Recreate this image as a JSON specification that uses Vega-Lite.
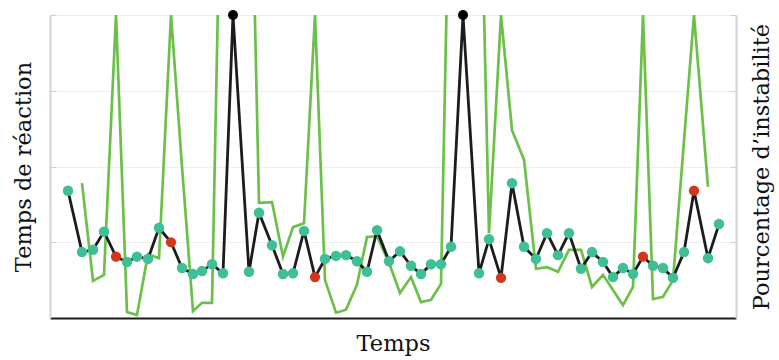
{
  "$schema": "https://vega.github.io/schema/vega-lite/v6.json",
  "width": 686,
  "height": 303,
  "autosize": {"type": "none"},
  "padding": {"left": 50, "top": 15, "right": 43, "bottom": 42},
  "background": "white",
  "config": {
    "view": {"stroke": null},
    "axis": {"titleFont": "DejaVu Serif", "titleFontSize": 22.5, "titleFontWeight": "normal", "titleColor": "#111"}
  },
  "data": {
    "values": [
      {"t": 18, "rt": 1.68, "inst": null, "kind": "normal"},
      {"t": 32, "rt": 0.87, "inst": 1.78, "kind": "normal"},
      {"t": 43, "rt": 0.90, "inst": 0.49, "kind": "normal"},
      {"t": 54, "rt": 1.14, "inst": 0.57, "kind": "normal"},
      {"t": 66, "rt": 0.81, "inst": 4.0, "kind": "erreur"},
      {"t": 77, "rt": 0.74, "inst": 0.08, "kind": "normal"},
      {"t": 87, "rt": 0.81, "inst": 0.04, "kind": "normal"},
      {"t": 98, "rt": 0.78, "inst": 0.84, "kind": "normal"},
      {"t": 109, "rt": 1.19, "inst": 0.79, "kind": "normal"},
      {"t": 121, "rt": 1.00, "inst": 4.0, "kind": "erreur"},
      {"t": 132, "rt": 0.66, "inst": 2.0, "kind": "normal"},
      {"t": 143, "rt": 0.58, "inst": 0.09, "kind": "normal"},
      {"t": 152, "rt": 0.62, "inst": 0.20, "kind": "normal"},
      {"t": 162, "rt": 0.71, "inst": 0.20, "kind": "normal"},
      {"t": 173, "rt": 0.59, "inst": 7.5, "kind": "normal"},
      {"t": 183, "rt": 4.0, "inst": 7.5, "kind": "pic"},
      {"t": 199, "rt": 0.61, "inst": 7.5, "kind": "normal"},
      {"t": 209, "rt": 1.39, "inst": 1.52, "kind": "normal"},
      {"t": 222, "rt": 0.96, "inst": 1.53, "kind": "normal"},
      {"t": 233, "rt": 0.58, "inst": 0.81, "kind": "normal"},
      {"t": 243, "rt": 0.59, "inst": 1.20, "kind": "normal"},
      {"t": 254, "rt": 1.15, "inst": 1.25, "kind": "normal"},
      {"t": 265, "rt": 0.54, "inst": 4.0, "kind": "erreur"},
      {"t": 275, "rt": 0.78, "inst": 0.50, "kind": "normal"},
      {"t": 286, "rt": 0.82, "inst": 0.07, "kind": "normal"},
      {"t": 296, "rt": 0.83, "inst": 0.11, "kind": "normal"},
      {"t": 307, "rt": 0.75, "inst": 0.44, "kind": "normal"},
      {"t": 317, "rt": 0.61, "inst": 1.07, "kind": "normal"},
      {"t": 327, "rt": 1.16, "inst": 1.08, "kind": "normal"},
      {"t": 339, "rt": 0.75, "inst": 0.73, "kind": "normal"},
      {"t": 350, "rt": 0.88, "inst": 0.33, "kind": "normal"},
      {"t": 361, "rt": 0.69, "inst": 0.54, "kind": "normal"},
      {"t": 371, "rt": 0.58, "inst": 0.21, "kind": "normal"},
      {"t": 381, "rt": 0.71, "inst": 0.24, "kind": "normal"},
      {"t": 391, "rt": 0.71, "inst": 0.45, "kind": "normal"},
      {"t": 401, "rt": 0.94, "inst": 7.0, "kind": "normal"},
      {"t": 413, "rt": 4.0, "inst": 7.0, "kind": "pic"},
      {"t": 429, "rt": 0.59, "inst": 7.0, "kind": "normal"},
      {"t": 439, "rt": 1.04, "inst": 1.12, "kind": "normal"},
      {"t": 451, "rt": 0.53, "inst": 4.0, "kind": "erreur"},
      {"t": 462, "rt": 1.78, "inst": 2.48, "kind": "normal"},
      {"t": 474, "rt": 0.94, "inst": 2.09, "kind": "normal"},
      {"t": 486, "rt": 0.78, "inst": 0.65, "kind": "normal"},
      {"t": 497, "rt": 1.12, "inst": 0.67, "kind": "normal"},
      {"t": 508, "rt": 0.83, "inst": 0.61, "kind": "normal"},
      {"t": 519, "rt": 1.12, "inst": 0.90, "kind": "normal"},
      {"t": 531, "rt": 0.65, "inst": 0.90, "kind": "normal"},
      {"t": 542, "rt": 0.87, "inst": 0.41, "kind": "normal"},
      {"t": 553, "rt": 0.74, "inst": 0.57, "kind": "normal"},
      {"t": 563, "rt": 0.54, "inst": 0.37, "kind": "normal"},
      {"t": 573, "rt": 0.66, "inst": 0.17, "kind": "normal"},
      {"t": 583, "rt": 0.58, "inst": 0.41, "kind": "normal"},
      {"t": 593, "rt": 0.81, "inst": 4.0, "kind": "erreur"},
      {"t": 603, "rt": 0.69, "inst": 0.25, "kind": "normal"},
      {"t": 613, "rt": 0.66, "inst": 0.28, "kind": "normal"},
      {"t": 623, "rt": 0.53, "inst": 0.50, "kind": "normal"},
      {"t": 634, "rt": 0.87, "inst": 2.34, "kind": "normal"},
      {"t": 644, "rt": 1.68, "inst": 4.0, "kind": "erreur"},
      {"t": 658, "rt": 0.79, "inst": 1.73, "kind": "normal"},
      {"t": 669, "rt": 1.24, "inst": null, "kind": "normal"}
    ]
  },
  "encoding": {
    "x": {
      "field": "t", "type": "quantitative",
      "scale": {"domain": [0, 686], "nice": false, "zero": false},
      "axis": {"title": "Temps", "labels": false, "ticks": false, "grid": false, "domainColor": "#1a1a1a", "domainWidth": 2, "titlePadding": 14}
    }
  },
  "layer": [
    {
      "mark": {"type": "line", "color": "#6cc04a", "strokeWidth": 2.7, "clip": true},
      "encoding": {
        "y": {
          "field": "inst", "type": "quantitative",
          "scale": {"domain": [0, 4], "nice": false},
          "axis": {"orient": "right", "title": "Pourcentage d’instabilité", "titleAngle": -90, "titleBaseline": "top", "labels": false, "grid": false, "values": [1, 2, 3, 4], "tickSize": -6, "tickColor": "#cfcfcf", "domainColor": "#d4d4d4", "domainWidth": 2, "titlePadding": 14}
        }
      }
    },
    {
      "mark": {"type": "line", "color": "#1c1c1c", "strokeWidth": 2.8},
      "encoding": {
        "y": {
          "field": "rt", "type": "quantitative",
          "scale": {"domain": [0, 4], "nice": false},
          "axis": {"orient": "left", "title": "Temps de réaction", "labels": false, "grid": true, "gridColor": "#efefef", "values": [1, 2, 3, 4], "tickSize": -6, "tickColor": "#cfcfcf", "domainColor": "#d4d4d4", "domainWidth": 2, "titlePadding": 14}
        }
      }
    },
    {
      "mark": {"type": "point", "filled": true, "opacity": 1},
      "encoding": {
        "y": {"field": "rt", "type": "quantitative", "axis": null},
        "color": {"field": "kind", "type": "nominal", "scale": {"domain": ["normal", "erreur", "pic"], "range": ["#3fbf95", "#d2371d", "#000000"]}, "legend": null},
        "size": {"field": "kind", "type": "nominal", "scale": {"domain": ["normal", "erreur", "pic"], "range": [110, 100, 70]}, "legend": null}
      }
    }
  ],
  "resolve": {"axis": {"y": "independent"}}
}
